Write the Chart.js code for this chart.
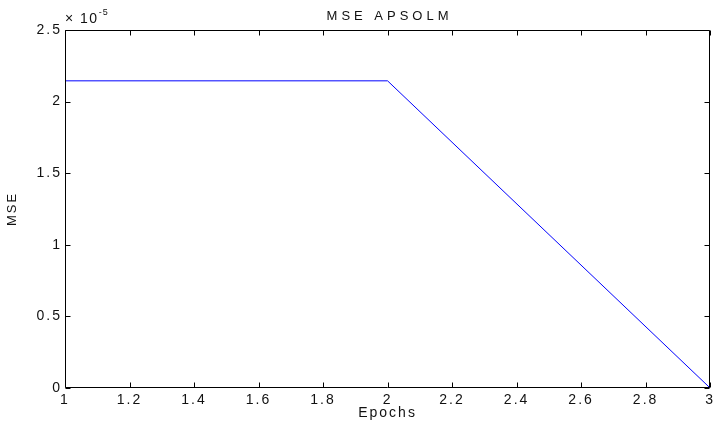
<!DOCTYPE html>
<html>
<head>
<meta charset="utf-8">
<script src="https://cdn.jsdelivr.net/npm/chart.js@4"></script>
<style>
  html, body { margin: 0; padding: 0; background: #fff; }
  #wrap { width: 718px; height: 426px; }
</style>
</head>
<body>
<div id="wrap"><canvas id="mseChart"></canvas></div>
<script>
// Data (MSE per epoch, APSOLM run)
const epochs = [1, 2, 3];
const mseValues = [2.145e-5, 2.145e-5, 0];
const yExponent = -5;
const xTicks = [1, 1.2, 1.4, 1.6, 1.8, 2, 2.2, 2.4, 2.6, 2.8, 3];
const yTicks = [0, 0.5, 1, 1.5, 2, 2.5];
const chartTitle = 'MSE APSOLM';
const xLabel = 'Epochs';
const yLabel = 'MSE';

const FONT = "'Liberation Sans', Arial, sans-serif";
const scaleFactor = Math.pow(10, yExponent);
const points = epochs.map((e, i) => ({ x: e, y: mseValues[i] / scaleFactor }));

// MATLAB-like box, inward ticks, title and exponent label
const matlabAxes = {
    id: 'matlabAxes',
    beforeDraw(chart) {
        chart.ctx.letterSpacing = '2px';
    },
    afterDraw(chart) {
        const { ctx, chartArea: a, scales: { x, y } } = chart;
        const L = Math.round(a.left) + 0.5, R = Math.round(a.right) - 0.5;
        const T = Math.round(a.top) + 0.5, B = Math.round(a.bottom) - 0.5;
        const tick = 5;
        ctx.save();
        ctx.letterSpacing = '0px';
        ctx.strokeStyle = '#000';
        ctx.lineWidth = 1;
        ctx.beginPath();
        ctx.rect(L, T, R - L, B - T);
        xTicks.forEach(v => {
            const px = Math.round(x.getPixelForValue(v)) + 0.5;
            ctx.moveTo(px, B); ctx.lineTo(px, B - tick);
            ctx.moveTo(px, T); ctx.lineTo(px, T + tick);
        });
        yTicks.forEach(v => {
            const py = Math.round(y.getPixelForValue(v)) + 0.5;
            ctx.moveTo(L, py); ctx.lineTo(L + tick, py);
            ctx.moveTo(R, py); ctx.lineTo(R - tick, py);
        });
        ctx.stroke();

        // titre
        ctx.fillStyle = '#111';
        ctx.font = '13px ' + FONT;
        ctx.letterSpacing = '4px';
        ctx.textAlign = 'center';
        ctx.textBaseline = 'middle';
        ctx.fillText(chartTitle, (a.left + a.right) / 2 + 2, 16);

        // exposant "x 10^-5"
        ctx.textAlign = 'left';
        ctx.textBaseline = 'alphabetic';
        ctx.letterSpacing = '1.5px';
        ctx.font = '14px ' + FONT;
        const base = '\u00d7 10';
        ctx.fillText(base, a.left, 23);
        const w = ctx.measureText(base).width;
        ctx.font = '9px ' + FONT;
        ctx.letterSpacing = '1px';
        ctx.fillText(String(yExponent), a.left + w, 15);
        ctx.restore();
    }
};

const ctx = document.getElementById('mseChart').getContext('2d');
new Chart(ctx, {
    type: 'line',
    data: {
        datasets: [{
            label: yLabel,
            data: points,
            borderColor: '#0000ff',
            borderWidth: 1,
            pointRadius: 0,
            tension: 0,
            fill: false
        }]
    },
    options: {
        responsive: true,
        maintainAspectRatio: false,
        animation: false,
        layout: {
            autoPadding: false,
            padding: { top: 30, right: 3, left: 0, bottom: 0 }
        },
        plugins: {
            legend: { display: false },
            tooltip: { enabled: false },
            title: { display: false }
        },
        scales: {
            x: {
                type: 'linear',
                min: 1,
                max: 3,
                afterBuildTicks: s => { s.ticks = xTicks.map(v => ({ value: v })); },
                afterFit: s => { s.height = 38; },
                grid: { display: false, drawTicks: false },
                border: { display: false },
                ticks: {
                    color: '#111',
                    font: { family: FONT, size: 14 },
                    padding: 4,
                    maxRotation: 0,
                    autoSkip: false,
                    callback: v => String(v)
                },
                title: {
                    display: true,
                    text: xLabel,
                    color: '#111',
                    font: { family: FONT, size: 14, lineHeight: 1.2 },
                    padding: { top: 0, bottom: 4.6 }
                }
            },
            y: {
                type: 'linear',
                min: 0,
                max: 2.5,
                afterBuildTicks: s => { s.ticks = yTicks.map(v => ({ value: v })); },
                afterFit: s => { s.width = 65; },
                grid: { display: false, drawTicks: false },
                border: { display: false },
                ticks: {
                    color: '#111',
                    font: { family: FONT, size: 14 },
                    padding: 3,
                    autoSkip: false,
                    callback: v => String(v)
                },
                title: {
                    display: true,
                    text: yLabel,
                    color: '#111',
                    font: { family: FONT, size: 13, lineHeight: 1.2 },
                    padding: { top: 5, bottom: 0 }
                }
            }
        }
    },
    plugins: [matlabAxes]
});
</script>
</body>
</html>
